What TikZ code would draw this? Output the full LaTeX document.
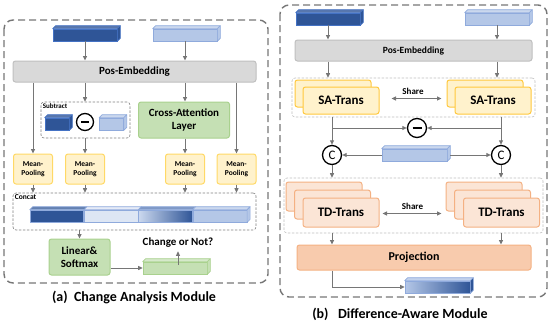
\documentclass[tikz,border=0pt]{standalone}
\usepackage{fontspec}
\setmainfont{Carlito}
\usetikzlibrary{arrows.meta,positioning,calc}

\definecolor{lineGray}{RGB}{118,118,118}
\definecolor{cubeDark}{RGB}{47,85,151}
\definecolor{cubeDarkEdge}{RGB}{68,114,196}
\definecolor{cubeLight}{RGB}{180,199,231}
\definecolor{cubeLightEdge}{RGB}{143,170,220}
\definecolor{embGray}{RGB}{217,217,217}
\definecolor{embEdge}{RGB}{191,191,191}
\definecolor{attGreen}{RGB}{197,224,180}
\definecolor{attEdge}{RGB}{169,209,142}
\definecolor{poolFill}{RGB}{255,242,204}
\definecolor{poolEdge}{RGB}{255,217,102}
\definecolor{saEdge}{RGB}{255,200,60}
\definecolor{tdFill}{RGB}{251,229,214}
\definecolor{tdEdge}{RGB}{244,177,131}
\definecolor{projFill}{RGB}{248,203,173}

% top and side faces of a flat feature bar
\newcommand{\bartop}[3]{%
  \filldraw[fill=#2, draw=#3, line width=0.6pt, line join=round]
    (#1.north west) -- ++(3pt,3pt) -- ([shift={(3pt,3pt)}]#1.north east) -- (#1.north east) -- cycle;}
\newcommand{\barside}[3]{%
  \filldraw[fill=#2, draw=#3, line width=0.6pt, line join=round]
    (#1.north east) -- ([shift={(3pt,3pt)}]#1.north east) -- ([shift={(3pt,3pt)}]#1.south east) -- (#1.south east) -- cycle;}

\begin{document}
\begin{tikzpicture}[x=1pt, y=-1pt, every node/.style={font=\bfseries}]
  \tikzset{
    arr/.style={-{Triangle[length=4.5pt,width=4pt]}, line width=0.9pt, draw=lineGray},
    twoway/.style={{Triangle[length=4.5pt,width=4pt]}-{Triangle[length=4.5pt,width=4pt]}, line width=0.9pt, draw=lineGray},
    module/.style={draw=lineGray, line width=1.4pt, dash pattern=on 7pt off 4pt, rounded corners=9pt},
    group/.style={draw=gray, line width=0.6pt, dash pattern=on 2.5pt off 1.5pt, rounded corners=3pt, inner sep=0pt},
    softgroup/.style={group, draw=gray!50},
    box/.style={draw, line width=1pt, rounded corners=2.5pt, align=center, inner sep=1pt},
    embed/.style={box, fill=embGray, draw=embEdge, minimum height=21pt},
    pool/.style={box, fill=poolFill, draw=poolEdge, minimum width=39pt, minimum height=30pt,
      font=\bfseries\fontsize{7.5}{9}\selectfont},
    green/.style={box, fill=attGreen, draw=attEdge, minimum height=36pt, font=\bfseries\fontsize{11}{13}\selectfont},
    satrans/.style={box, fill=poolFill, draw=saEdge, minimum width=76pt, minimum height=27pt,
      font=\bfseries\fontsize{13}{15}\selectfont},
    tdtrans/.style={box, fill=tdFill, draw=tdEdge, minimum width=76pt, minimum height=29pt,
      font=\bfseries\fontsize{13}{15}\selectfont},
    bar/.style={draw, line width=0.6pt, inner sep=0pt, minimum height=12pt},
    op/.style={circle, draw=black, line width=1.3pt, inner sep=0pt, minimum size=19pt},
    tag/.style={font=\bfseries\fontsize{7}{8}\selectfont, inner sep=1pt, anchor=north west},
    share/.style={font=\bfseries\fontsize{9}{10}\selectfont, inner sep=1pt},
    caption/.style={font=\bfseries\fontsize{14}{16}\selectfont}
  }
  \useasboundingbox (0,0) rectangle (550,327);

  % ---------------- (a) change analysis module ----------------
  \draw[module] (4,20) rectangle (268,283);
  \node[bar, fill=cubeDark, draw=cubeDarkEdge, minimum width=64pt] (inL) at (85,35) {};
  \bartop{inL}{cubeDark!80!white}{cubeDarkEdge}
  \barside{inL}{cubeDark}{cubeDarkEdge}
  \node[bar, fill=cubeLight, draw=cubeLightEdge, minimum width=64pt] (inR) at (185,35) {};
  \bartop{inR}{cubeLight!70!white}{cubeLightEdge}
  \barside{inR}{cubeLight}{cubeLightEdge}

  \node[embed, minimum width=243pt, font=\bfseries\fontsize{11}{13}\selectfont] (pos) at (134.5,71.5) {Pos-Embedding};
  \draw[arr] (inL.south) -- (inL |- pos.north);
  \draw[arr] (inR.south) -- (inR |- pos.north);

  % subtract group and cross attention
  \node[group, minimum width=89pt, minimum height=36pt] (sub) at (85.5,120) {};
  \node[tag] (sublbl) at ([shift={(1pt,-1pt)}]sub.north west) {Subtract};
  \node[op, minimum size=17pt] (minusA) at (85,122) {};
  \draw[line width=1.3pt] ([xshift=-4pt]minusA.center) -- ([xshift=4pt]minusA.center);
  \node[bar, fill=cubeDark, draw=cubeDarkEdge, minimum width=24pt] (subL) at (57,124) {};
  \bartop{subL}{cubeDark!80!white}{cubeDarkEdge}
  \barside{subL}{cubeDark}{cubeDarkEdge}
  \node[bar, fill=cubeLight, draw=cubeLightEdge, minimum width=24pt] (subR) at (111.5,124) {};
  \bartop{subR}{cubeLight!70!white}{cubeLightEdge}
  \barside{subR}{cubeLight}{cubeLightEdge}
  \node[green, minimum width=91pt] (cross) at (184,120) {Cross-Attention\\Layer};

  % mean pooling
  \node[pool] (mp1) at (33,169) {Mean-\\Pooling};
  \node[pool] (mp2) at (85,169) {Mean-\\Pooling};
  \node[pool] (mp3) at (185,169) {Mean-\\Pooling};
  \node[pool] (mp4) at (236.5,169) {Mean-\\Pooling};

  \draw[arr] (pos.south -| mp1) -- (mp1.north);
  \draw[arr] (pos.south -| minusA) -- (sub.north -| minusA);
  \draw[arr] (pos.south -| inR) -- (cross.north -| inR);
  \draw[arr] (pos.south -| mp4) -- (mp4.north);
  \draw[arr] (sub.south -| mp2) -- (mp2.north);
  \draw[arr] (cross.south -| mp3) -- (mp3.north);

  % concat
  \node[group, minimum width=243pt, minimum height=37pt] (cat) at (134.5,211.5) {};
  \node[tag, font=\bfseries\fontsize{7.5}{8.5}\selectfont] (catlbl) at ([shift={(1pt,-1pt)}]cat.north west) {Concat};
  \node[bar, fill=cubeDark, draw=cubeLightEdge, minimum width=53.75pt] (seg1) at (56.9,216) {};
  \node[bar, fill=cubeLight!45!white, draw=cubeLightEdge, minimum width=53.75pt, right=0pt of seg1] (seg2) {};
  \node[bar, left color=cubeLight!70!white, right color=cubeDark, draw=cubeLightEdge, minimum width=53.75pt, right=0pt of seg2] (seg3) {};
  \node[bar, fill=cubeLight, draw=cubeLightEdge, minimum width=53.75pt, right=0pt of seg3] (seg4) {};
  \bartop{seg1}{cubeDark!75!white}{cubeLightEdge}
  \bartop{seg2}{cubeLight!35!white}{cubeLightEdge}
  \bartop{seg3}{cubeLight!60!cubeDark}{cubeLightEdge}
  \bartop{seg4}{cubeLight!70!white}{cubeLightEdge}
  \barside{seg4}{cubeLight}{cubeLightEdge}
  \foreach \m in {mp1,mp2,mp3,mp4}
    \draw[arr] (\m.south) -- (cat.north -| \m);

  % classifier
  \node[green, minimum width=61pt] (lin) at (79.5,257) {Linear\&\\Softmax};
  \draw[arr] (cat.south -| lin) -- (lin.north);
  \node[bar, fill=attGreen, draw=attEdge, minimum width=64pt] (cls) at (175,268) {};
  \bartop{cls}{attGreen!70!white}{attEdge}
  \barside{cls}{attGreen}{attEdge}
  \node[font=\bfseries\fontsize{11}{13}\selectfont] (out) at (178,243) {Change or Not?};
  \draw[arr] (cls.west -| lin.east) -- (cls.west);
  \draw[arr] ([yshift=-3pt]cls.north -| out) -- (out.south);

  \node[caption] (capA) at (134,297) {(a)\ \ Change Analysis Module};

  % ---------------- (b) difference-aware module ----------------
  \draw[module] (280,5) rectangle (547,297);
  \node[bar, fill=cubeDark, draw=cubeDarkEdge, minimum width=64pt] (inL2) at (328,19) {};
  \bartop{inL2}{cubeDark!80!white}{cubeDarkEdge}
  \barside{inL2}{cubeDark}{cubeDarkEdge}
  \node[bar, fill=cubeLight, draw=cubeLightEdge, minimum width=64pt] (inR2) at (497,19) {};
  \bartop{inR2}{cubeLight!70!white}{cubeLightEdge}
  \barside{inR2}{cubeLight}{cubeLightEdge}

  \node[embed, minimum width=237pt, font=\bfseries\fontsize{9.5}{11}\selectfont] (pos2) at (413.5,50.5) {Pos-Embedding};
  \draw[arr] (inL2.south) -- (inL2 |- pos2.north);
  \draw[arr] (inR2.south) -- (inR2 |- pos2.north);

  % self-attention transformers
  \node[softgroup, minimum width=243pt, minimum height=39pt] (sagrp) at (413.5,97.5) {};
  \node[satrans] (saLb) at (333,93.5) {};
  \node[satrans] (saL) at (341,100.5) {SA-Trans};
  \node[satrans] (saRb) at (485,93.5) {};
  \node[satrans] (saR) at (493,100.5) {SA-Trans};
  \draw[arr] (pos2.south -| inL2) -- (sagrp.north -| inL2);
  \draw[arr] (pos2.south -| inR2) -- (sagrp.north -| inR2);
  \draw[twoway, shorten <=12pt, shorten >=5pt] ([yshift=2pt]saL.east) -- ([yshift=2pt]saL.east -| saRb.west)
    node[share, midway, above=2pt] (share1) {Share};

  % difference and concatenation
  \node[op] (minusB) at (417,128) {};
  \draw[line width=1.3pt] ([xshift=-4.5pt]minusB.center) -- ([xshift=4.5pt]minusB.center);
  \node[op, font=\fontsize{13}{15}\selectfont] (catL) at (332,155) {C};
  \node[op, font=\fontsize{13}{15}\selectfont] (catR) at (501,155) {C};
  \node[bar, fill=cubeLight, draw=cubeLightEdge, minimum width=65pt] (diff) at (414.5,155) {};
  \bartop{diff}{cubeLight!70!white}{cubeLightEdge}
  \barside{diff}{cubeLight}{cubeLightEdge}
  \draw[arr] (sagrp.south -| catL) -- (catL.north);
  \draw[arr] (sagrp.south -| catR) -- (catR.north);
  \draw[arr] (minusB.west -| catL) -- (minusB.west);
  \draw[arr] (minusB.east -| catR) -- (minusB.east);
  \draw[arr] (diff.west) -- (catL.east);
  \draw[arr] ([xshift=3pt]diff.east) -- (catR.west);

  % temporal-difference transformers
  \node[softgroup, minimum width=259pt, minimum height=55pt] (tdgrp) at (413.5,205.5) {};
  \node[tdtrans] (tdL3) at (324,196.5) {};
  \node[tdtrans] (tdL2) at (332.5,204.5) {};
  \node[tdtrans] (tdL) at (341,212.5) {TD-Trans};
  \node[tdtrans] (tdR3) at (484,196.5) {};
  \node[tdtrans] (tdR2) at (492.5,204.5) {};
  \node[tdtrans] (tdR) at (501.5,212.5) {TD-Trans};
  \draw[arr] (catL.south) -- (catL |- tdgrp.north);
  \draw[arr] (catR.south) -- (catR |- tdgrp.north);
  \draw[twoway, shorten <=3pt, shorten >=4pt] ([yshift=-1pt]tdL.east) -- ([yshift=-1pt]tdL.east -| tdR3.west)
    node[share, midway, above=2pt] (share2) {Share};

  % projection
  \node[box, fill=projFill, draw=tdEdge, minimum width=234pt, minimum height=25pt,
    font=\bfseries\fontsize{12}{14}\selectfont] (proj) at (414,257.5) {Projection};
  \draw[arr] (tdgrp.south -| catL) -- (proj.north -| catL);
  \draw[arr] (tdgrp.south -| catR) -- (proj.north -| catR);
  \node[bar, left color=cubeLight, right color=cubeDark, draw=cubeLightEdge, minimum width=65pt] (res) at (437.5,287) {};
  \bartop{res}{cubeLight!80!white}{cubeLightEdge}
  \barside{res}{cubeDark}{cubeLightEdge}
  \draw[arr] (proj.south -| catL) |- (res.west);

  \node[caption] (capB) at (400,314) {(b)\ \ \ Difference-Aware Module};
\end{tikzpicture}
\end{document}
